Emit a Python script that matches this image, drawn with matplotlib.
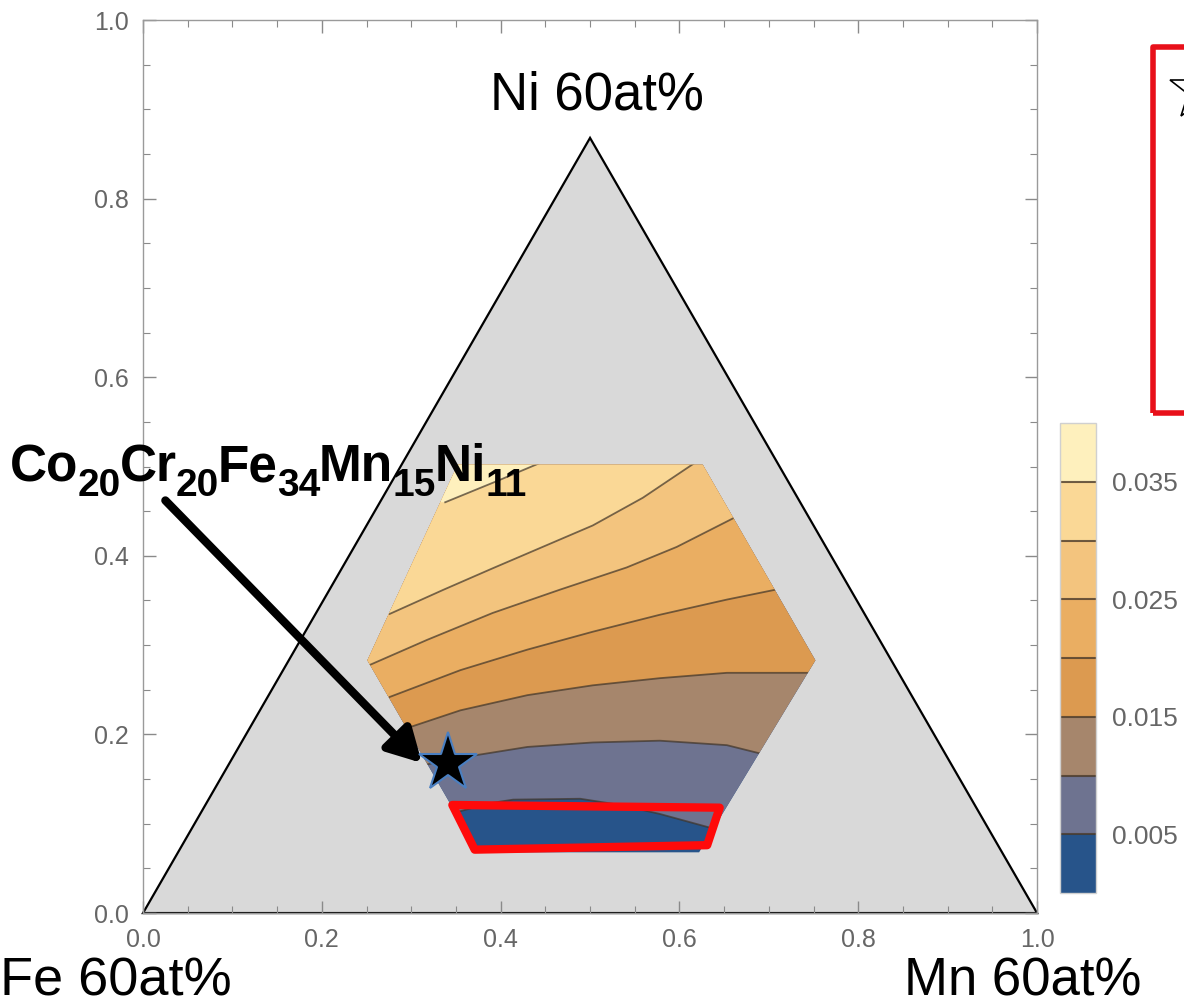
"""
Ternary cross-section (Fe-Mn-Ni at 60 at%) with a contoured hexagonal
composition window, a marked alloy and a highlighted low-value pocket.
"""

import matplotlib.pyplot as plt
import numpy as np
from matplotlib.cm import ScalarMappable
from matplotlib.colors import BoundaryNorm, ListedColormap
from matplotlib.patches import Polygon, Rectangle
from matplotlib.ticker import FormatStrFormatter, MultipleLocator

plt.rcParams["font.family"] = ["Liberation Sans", "DejaVu Sans"]

W, H = 1184, 1006

# -----------------------------
# Data
# -----------------------------
TRIANGLE_X = [0.0, 1.0, 0.5]
TRIANGLE_Y = [0.0, 0.0, 0.868]

HEXAGON_X = [0.352, 0.626, 0.752, 0.622, 0.375, 0.251]
HEXAGON_Y = [0.502, 0.502, 0.283, 0.068, 0.068, 0.283]

LEVELS = [0.0, 0.005, 0.010, 0.015, 0.020, 0.025, 0.030, 0.035, 0.040]
BAND_COLORS = ["#27548a", "#6e7390", "#a6866c", "#dc9a50",
               "#eaae62", "#f3c47e", "#fad896", "#fef0bd"]
CBAR_TICKS = [0.005, 0.015, 0.025, 0.035]
CBAR_LABELS = ["0.005", "0.015", "0.025", "0.035"]

# iso-lines, lowest level first
ISO_005_X = [0.351, 0.388, 0.414, 0.489, 0.534, 0.578, 0.640]
ISO_005_Y = [0.113, 0.123, 0.127, 0.128, 0.121, 0.111, 0.094]
ISO_010_X = [0.315, 0.374, 0.430, 0.503, 0.578, 0.653, 0.689]
ISO_010_Y = [0.166, 0.177, 0.186, 0.191, 0.193, 0.188, 0.179]
ISO_015_X = [0.295, 0.355, 0.430, 0.503, 0.578, 0.653, 0.744]
ISO_015_Y = [0.207, 0.227, 0.244, 0.255, 0.263, 0.269, 0.269]
ISO_020_X = [0.276, 0.355, 0.430, 0.503, 0.578, 0.653, 0.707]
ISO_020_Y = [0.242, 0.272, 0.295, 0.315, 0.334, 0.351, 0.362]
ISO_025_X = [0.254, 0.318, 0.391, 0.466, 0.541, 0.597, 0.660]
ISO_025_Y = [0.278, 0.306, 0.336, 0.362, 0.387, 0.410, 0.442]
ISO_030_X = [0.276, 0.336, 0.391, 0.447, 0.503, 0.559, 0.617]
ISO_030_Y = [0.335, 0.362, 0.386, 0.410, 0.434, 0.465, 0.504]
ISO_035_X = [0.338, 0.399, 0.444]
ISO_035_Y = [0.460, 0.485, 0.504]

HIGHLIGHT_X = [0.346, 0.645, 0.631, 0.371]
HIGHLIGHT_Y = [0.121, 0.118, 0.076, 0.071]

ALLOY_X, ALLOY_Y = 0.341, 0.168
ALLOY_ELEMENTS = ["Co", "Cr", "Fe", "Mn", "Ni"]
ALLOY_FRACTIONS = ["20", "20", "34", "15", "11"]
ARROW_START = (0.025, 0.462)
ARROW_END = (0.312, 0.168)

iso_lines = [
    (ISO_005_X, ISO_005_Y), (ISO_010_X, ISO_010_Y), (ISO_015_X, ISO_015_Y),
    (ISO_020_X, ISO_020_Y), (ISO_025_X, ISO_025_Y), (ISO_030_X, ISO_030_Y),
    (ISO_035_X, ISO_035_Y),
]

# -----------------------------
# Figure
# -----------------------------
fig = plt.figure(figsize=(W / 100, H / 100), dpi=100)
ax = fig.add_axes([0.1208, 0.0924, 0.7551, 0.8877])
ax.set_xlim(0, 1)
ax.set_ylim(0, 1)

ax.add_patch(Polygon(np.column_stack([TRIANGLE_X, TRIANGLE_Y]), closed=True,
                     facecolor="#d9d9d9", edgecolor="black", lw=1.6,
                     zorder=1, clip_on=False))

hexagon = Polygon(np.column_stack([HEXAGON_X, HEXAGON_Y]), closed=True,
                  facecolor=BAND_COLORS[0], edgecolor="none", zorder=2)
ax.add_patch(hexagon)

# each band = area above its lower iso-line, clipped to the hexagon
for (xs, ys), color in zip(iso_lines, BAND_COLORS[1:]):
    xs_ext = np.r_[-1.0, xs, 2.0]
    ys_ext = np.r_[ys[0], ys, ys[-1]]
    upper = np.column_stack([np.r_[xs_ext, 2.0, -1.0], np.r_[ys_ext, 2.0, 2.0]])
    band = Polygon(upper, closed=True, facecolor=color, edgecolor="none", zorder=3)
    ax.add_patch(band)
    band.set_clip_path(hexagon)

for xs, ys in iso_lines:
    line, = ax.plot(xs, ys, color="#3f3428", lw=1.3, alpha=0.7, zorder=4,
                    solid_joinstyle="round")
    line.set_clip_path(hexagon)

ax.add_patch(Polygon(np.column_stack([HIGHLIGHT_X, HIGHLIGHT_Y]), closed=True,
                     fill=False, edgecolor="#ff0a0a", lw=6, joinstyle="round",
                     zorder=5))

ax.plot(ALLOY_X, ALLOY_Y, marker="*", ms=44, mfc="black", mec="#4a7fc1",
        mew=1.5, zorder=7)

ax.annotate("", xy=ARROW_END, xytext=ARROW_START, annotation_clip=False,
            arrowprops=dict(arrowstyle="-|>,head_length=1.0,head_width=0.55",
                            lw=6, color="black", mutation_scale=20,
                            shrinkA=0, shrinkB=0), zorder=6)

# alloy formula: bold element symbols with large, dropped subscripts
renderer = fig.canvas.get_renderer()
x_px, base_px = 10, H - 481
for element, frac in zip(ALLOY_ELEMENTS, ALLOY_FRACTIONS):
    for s, size, drop in ((element, 37, 0), (frac, 28, 15)):
        t = fig.text(x_px / W, (base_px - drop) / H, s, fontsize=size,
                     fontweight="bold", ha="left", va="baseline", zorder=8)
        x_px += t.get_window_extent(renderer).width - 1

# corner labels
ax.text(0.508, 0.916, "Ni 60at%", ha="center", va="center", fontsize=38)
fig.text(0.0, 1 - 981 / H, "Fe 60at%", ha="left", va="center", fontsize=39)
fig.text(1141 / W, 1 - 981 / H, "Mn 60at%", ha="right", va="center",
         fontsize=38)

# frame and ticks
for spine in ax.spines.values():
    spine.set_color("#9a9a9a")
    spine.set_linewidth(1.0)
for axis in (ax.xaxis, ax.yaxis):
    axis.set_major_locator(MultipleLocator(0.2))
    axis.set_minor_locator(MultipleLocator(0.05))
    axis.set_major_formatter(FormatStrFormatter("%.1f"))
ax.tick_params(which="both", direction="in", top=True, right=True,
               color="#8a8a8a", labelcolor="#666666", labelsize=18)
ax.tick_params(which="major", length=9, width=1.0)
ax.tick_params(which="minor", length=5, width=0.8)
ax.tick_params(axis="x", pad=11)
ax.tick_params(axis="y", pad=10)

# colour scale
cax = fig.add_axes([0.895, 0.1123, 0.0304, 0.467])
mappable = ScalarMappable(norm=BoundaryNorm(LEVELS, len(BAND_COLORS)),
                          cmap=ListedColormap(BAND_COLORS))
cb = fig.colorbar(mappable, cax=cax, ticks=CBAR_TICKS, drawedges=True)
cb.set_ticklabels(CBAR_LABELS)
cb.minorticks_off()
cb.ax.tick_params(which="both", length=0, labelsize=19,
                  labelcolor="#666666", pad=12)
cb.outline.set_edgecolor("#d0d0d0")
cb.outline.set_linewidth(1.0)
cb.dividers.set_color("#4a3a2a")
cb.dividers.set_linewidth(1.5)
cb.dividers.set_alpha(0.8)

# legend frame running off the right edge
fig.patches.append(Rectangle((1153 / W, 1 - 413 / H), 0.1, 366 / H,
                             transform=fig.transFigure, fill=False,
                             edgecolor="#e8101a", lw=4, joinstyle="round"))
fig.lines.append(plt.Line2D([1200 / W], [1 - 90 / H],
                            transform=fig.transFigure, marker="*", ms=46,
                            mfc="white", mec="black", mew=1.2))

fig.savefig("out.png", dpi=100)
